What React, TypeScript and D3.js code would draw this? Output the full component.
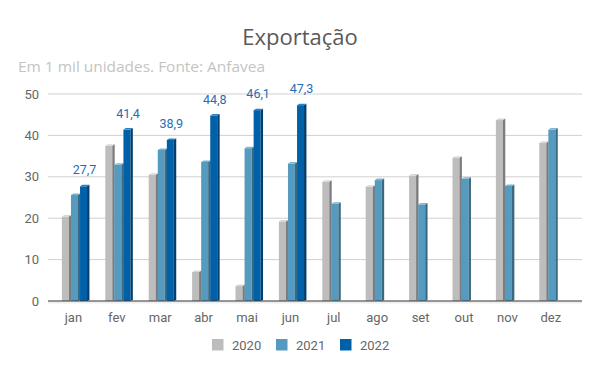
import React from "react";
import * as d3 from "d3";

const months = ["jan", "fev", "mar", "abr", "mai", "jun", "jul", "ago", "set", "out", "nov", "dez"];
const series = ["2020", "2021", "2022"];
const v2020 = [20.4, 37.5, 30.5, 7.0, 3.6, 19.2, 28.8, 27.6, 30.3, 34.6, 43.7, 38.2];
const v2021 = [25.6, 32.9, 36.5, 33.6, 36.9, 33.2, 23.5, 29.2, 23.3, 29.5, 27.8, 41.4];
const v2022: (number | null)[] = [27.7, 41.4, 38.9, 44.8, 46.1, 47.3, null, null, null, null, null, null];
const yTicks = [0, 10, 20, 30, 40, 50];

const colors = {
  "2020": { front: "#bdbdbd", side: "#7c7c7c", top: "#d6d6d6" },
  "2021": { front: "#559bbf", side: "#3a6a82", top: "#7cb4d2" },
  "2022": { front: "#0060a8", side: "#003f70", top: "#2a7fc0" },
};

export default function App() {
  const W = 600, H = 371;
  const y = d3.scaleLinear().domain([0, 50]).range([301, 94]);
  const x = d3.scaleBand().domain(months).range([53.7, 574.5]);
  const inner = d3.scaleBand().domain(series).range([8.2, 35.4]);
  const front = 7;
  const depth = 2.4;
  const font = "Roboto, 'Open Sans', sans-serif";
  const font2 = "'Open Sans', sans-serif";
  const data: Record<string, (number | null)[]> = { "2020": v2020, "2021": v2021, "2022": v2022 };

  return (
    <svg width={W} height={H} style={{ position: "absolute", left: 0, top: 0, background: "#fff" }}>
      <text x={300} y={45} textAnchor="middle" fontFamily={font2} fontSize={22} fill="#595959">Exportação</text>
      <text x={18} y={72} fontFamily={font2} fontSize={14} fill="#c4c4c4" textLength={247} lengthAdjust="spacingAndGlyphs">Em 1 mil unidades. Fonte: Anfavea</text>
      {yTicks.map((t) => (
        <g key={t}>
          {t > 0 && <line x1={48} x2={582} y1={y(t)} y2={y(t)} stroke="#d0d0d0" strokeWidth={1} />}
          <text x={39} y={y(t) + 4.5} textAnchor="end" fontFamily={font} fontSize={13} fill="#666">{t}</text>
        </g>
      ))}
      <rect x={48} y={301.5} width={534} height={2} fill="#eeeeee" />
      {series.map((s) =>
        months.map((m, i) => {
          const v = data[s][i];
          if (v == null) return null;
          const x0 = (x(m) as number) + (inner(s) as number);
          const yt = y(v);
          const yb = y(0);
          const c = (colors as any)[s];
          return (
            <g key={s + m}>
              <rect x={x0} y={yt} width={front} height={yb - yt} fill={c.front} />
              <polygon points={`${x0 + front},${yt} ${x0 + front + depth},${yt - 1.5} ${x0 + front + depth},${yb - 1} ${x0 + front},${yb}`} fill={c.side} />
              <polygon points={`${x0},${yt} ${x0 + depth},${yt - 1.5} ${x0 + front + depth},${yt - 1.5} ${x0 + front},${yt}`} fill={c.top} />
            </g>
          );
        })
      )}
      <line x1={48} x2={582} y1={301} y2={301} stroke="#333" strokeWidth={1.2} />
      {months.map((m, i) => {
        const v = v2022[i];
        if (v == null) return null;
        const cx = (x(m) as number) + (inner("2022") as number) + front / 2 + 1;
        return (
          <text key={"l" + m} x={cx} y={y(v) - 12} textAnchor="middle" fontFamily={font} fontSize={12.5} fill="#1f6db5">
            {v.toFixed(1).replace(".", ",")}
          </text>
        );
      })}
      {months.map((m) => (
        <text key={"x" + m} x={(x(m) as number) + x.bandwidth() / 2 - 2} y={322} textAnchor="middle" fontFamily={font} fontSize={13} fill="#666">{m}</text>
      ))}
      {series.map((s, i) => {
        const lx = 212 + i * 64;
        return (
          <g key={"lg" + s}>
            <rect x={lx} y={339} width={11.5} height={11.5} fill={(colors as any)[s].front} />
            <text x={lx + 20} y={349.5} fontFamily={font} fontSize={13} fill="#666">{s}</text>
          </g>
        );
      })}
    </svg>
  );
}
